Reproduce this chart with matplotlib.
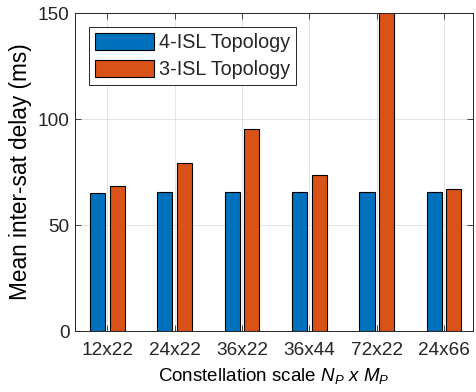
#!/usr/bin/env python3
import matplotlib as mpl

mpl.use("Agg")
import matplotlib.pyplot as plt
import numpy as np

CATEGORIES = ["12x22", "24x22", "36x22", "36x44", "72x22", "24x66"]
DELAY_4ISL = [65.2, 65.4, 65.4, 65.4, 65.4, 65.4]
DELAY_3ISL = [68.5, 79.4, 95.4, 73.6, 165.0, 67.0]

BLUE = "#0072BD"
ORANGE = "#D95319"
INK = "#262626"

mpl.rcParams.update(
    {
        "font.family": ["Liberation Sans", "DejaVu Sans"],
        "mathtext.fontset": "custom",
        "mathtext.rm": "Liberation Sans",
        "mathtext.it": "Liberation Sans:italic",
        "axes.edgecolor": INK,
        "xtick.color": INK,
        "ytick.color": INK,
        "text.color": INK,
    }
)

fig = plt.figure(figsize=(4.77, 3.92), dpi=100)
ax = fig.add_axes([75 / 477, 1 - 331 / 392, 398 / 477, 318 / 392])

x = np.arange(1, len(CATEGORIES) + 1)
w = 0.225
ax.bar(x - 0.145, DELAY_4ISL, width=w, color=BLUE, edgecolor="black", lw=0.8,
       label="4-ISL Topology", zorder=3)
ax.bar(x + 0.145, DELAY_3ISL, width=w, color=ORANGE, edgecolor="black", lw=0.8,
       label="3-ISL Topology", zorder=3)

ax.set_xlim(0.52, 6.43)
ax.set_ylim(0, 150)
ax.set_yticks([0, 50, 100, 150])
ax.set_xticks(x)
ax.set_xticklabels(CATEGORIES)
ax.tick_params(direction="in", top=True, right=True, labelsize=13.7, width=0.6, length=4)
ax.tick_params(axis="x", pad=8)
ax.tick_params(axis="y", pad=4)
ax.grid(True, color="#DFDFDF", lw=0.6, zorder=0)
for s in ax.spines.values():
    s.set_linewidth(0.7)
    s.set_zorder(4)

ax.set_xlabel(r"Constellation scale $N_P\ x\ M_P$", fontsize=13.5, labelpad=5)
ax.set_ylabel("Mean inter-sat delay (ms)", fontsize=16.3, labelpad=4)

leg = ax.legend(loc="upper left", bbox_to_anchor=(0.035, 0.956), borderaxespad=0,
                fontsize=14.2, fancybox=False, edgecolor=INK, framealpha=1,
                borderpad=0.3, handlelength=3.0, handleheight=0.95,
                handletextpad=0.25, labelspacing=0.4)
leg.get_frame().set_linewidth(0.7)

fig.savefig("out.png", dpi=100)
